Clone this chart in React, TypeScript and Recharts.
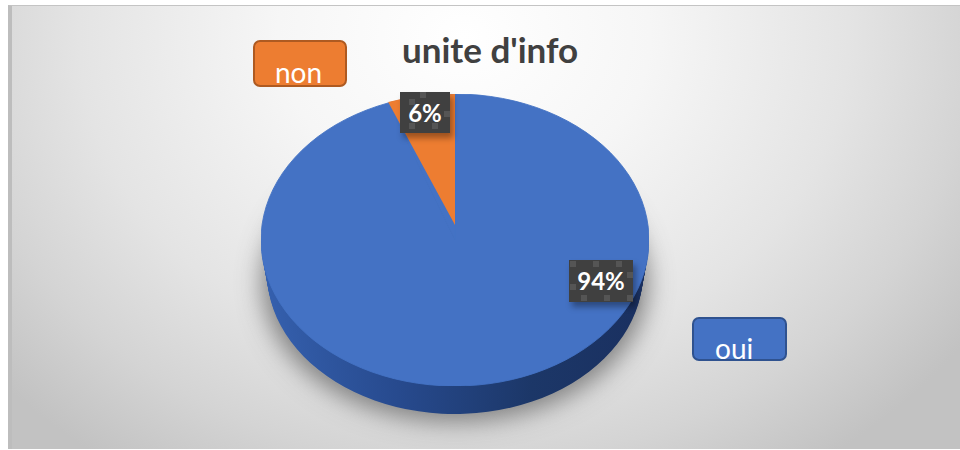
import { Cell, Pie, PieChart } from "recharts";

const labels = ["oui", "non"];
const values = [94.4, 5.6];
const sideLayers = [28, 26, 24, 22, 20, 18, 16, 14, 12, 10, 8, 6, 4, 2];

const BLUE = "#4472c4";
const ORANGE = "#ed7d31";
const FONT = "Lato, 'Open Sans', sans-serif";

const tableData = labels.map((name, i) => ({ name, value: values[i] }));

const RX = 194;
const CX = 455;
const RY = 146;
const K = RY / RX;

// recharts only draws circles, so squash the whole chart to get the tilted disc
function FlatPie({
  cy,
  ry,
  children,
  extra = 0,
}: {
  cy: number;
  ry: number;
  children: React.ReactNode;
  extra?: number;
}) {
  const k = ry / RX;
  return (
    <div
      style={{
        position: "absolute",
        left: CX - RX,
        top: cy - RX,
        width: RX * 2,
        height: RX * 2 + extra,
        transform: `scaleY(${k})`,
        transformOrigin: `50% ${RX}px`,
      }}
    >
      <PieChart
        width={RX * 2}
        height={RX * 2 + extra}
        margin={{ top: 0, right: 0, bottom: 0, left: 0 }}
      >
        {children}
      </PieChart>
    </div>
  );
}

const pieProps = {
  dataKey: "value",
  nameKey: "name",
  cx: RX,
  outerRadius: RX,
  startAngle: 90,
  endAngle: -270,
  label: false,
  labelLine: false,
  isAnimationActive: false,
};

function Box({ left, top, width, height, bg, border, text, textX, baseline }: any) {
  return (
    <div
      style={{
        position: "absolute",
        left,
        top,
        width,
        height,
        boxSizing: "border-box",
        background: bg,
        border: `2px solid ${border}`,
        borderRadius: 7,
      }}
    >
      <span
        style={{
          position: "absolute",
          left: textX - left - 2,
          top: baseline - top - 2 - 26,
          lineHeight: "34px",
          fontFamily: FONT,
          fontSize: 28,
          color: "#fff",
          whiteSpace: "nowrap",
        }}
      >
        {text}
      </span>
    </div>
  );
}

function DataLabel({ left, top, width, height, text, dots }: any) {
  return (
    <div
      style={{
        position: "absolute",
        left,
        top,
        width,
        height,
        background: "#404040",
        boxShadow: "3px 5px 6px rgba(0,0,0,0.35)",
        color: "#fff",
        fontFamily: FONT,
        fontWeight: 700,
        fontSize: 24,
        lineHeight: `${height}px`,
        textAlign: "center",
      }}
    >
      {dots.map(([x, y]: number[], i: number) => (
        <i
          key={i}
          style={{
            position: "absolute",
            left: x,
            top: y,
            width: 6,
            height: 6,
            background: "#555",
          }}
        />
      ))}
      <span style={{ position: "relative" }}>{text}</span>
    </div>
  );
}

export default function App() {
  return (
    <div
      style={{
        position: "absolute",
        left: 0,
        top: 0,
        width: 960,
        height: 450,
        overflow: "hidden",
        background: "#fff",
      }}
    >
      <div
        style={{
          position: "absolute",
          left: 8,
          top: 5,
          width: 952,
          height: 444,
          background:
            "radial-gradient(ellipse 620px 520px at 452px 30px, #ffffff 0%, #f6f6f6 30%, #e4e4e4 62%, #d4d4d4 82%, #c2c2c2 100%)",
          borderLeft: "4px solid #bdbdbd",
          borderTop: "1px solid #c4c4c4",
          boxSizing: "border-box",
        }}
      />

      {/* soft shadow under the disc */}
      <div
        style={{
          position: "absolute",
          left: 270,
          top: 150,
          width: 370,
          height: 264,
          borderRadius: "50%",
          background: "#9c9c9c",
          boxShadow: "0 0 24px 8px rgba(105,105,105,0.8)",
        }}
      />

      {/* side wall */}
      <FlatPie cy={240} ry={RY} extra={60}>
        <defs>
          <linearGradient id="sideWall" x1="0" y1="0" x2="1" y2="0">
            <stop offset="0%" stopColor="#3560ae" />
            <stop offset="35%" stopColor="#274a8e" />
            <stop offset="70%" stopColor="#1c3768" />
            <stop offset="100%" stopColor="#1a3060" />
          </linearGradient>
        </defs>
        {sideLayers.map((d) => {
          // the wall narrows a little towards the bottom, as in a perspective view
          const r = RX - (d * 6) / 28;
          return (
            <Pie
              key={d}
              {...pieProps}
              outerRadius={r}
              cy={RX + d / K + (RX - r)}
              data={tableData}
              stroke="none"
            >
              {tableData.map((e) => (
                <Cell key={e.name} fill="url(#sideWall)" />
              ))}
            </Pie>
          );
        })}
      </FlatPie>

      {/* top face */}
      <FlatPie cy={240} ry={RY}>
        <Pie {...pieProps} cy={RX} data={tableData} stroke={BLUE} strokeWidth={1}>
          {tableData.map((d) => (
            <Cell key={d.name} fill={BLUE} />
          ))}
        </Pie>
      </FlatPie>

      {/* perspective moves the apex up, so the small slice sits on its own centre */}
      <FlatPie cy={225} ry={131}>
        <Pie {...pieProps} cy={RX} data={tableData} stroke="none">
          {tableData.map((d, i) => (
            <Cell key={d.name} fill={i === 1 ? ORANGE : "transparent"} />
          ))}
        </Pie>
      </FlatPie>

      <div
        style={{
          position: "absolute",
          left: 402,
          top: 28,
          fontFamily: FONT,
          fontWeight: 700,
          fontSize: 35,
          lineHeight: "42px",
          color: "#404040",
          whiteSpace: "nowrap",
        }}
      >
        unite d'info
      </div>

      <Box
        left={253}
        top={40}
        width={94}
        height={47}
        bg={ORANGE}
        border="#ae5a21"
        text={labels[1]}
        textX={275}
        baseline={81}
      />
      <Box
        left={692}
        top={317}
        width={95}
        height={44}
        bg={BLUE}
        border="#2f528f"
        text={labels[0]}
        textX={715}
        baseline={357}
      />

      <DataLabel
        left={400}
        top={92}
        width={50}
        height={41}
        text={`${Math.round(values[1])}%`}
        dots={[
          [9, 7],
          [9, 31],
          [20, 0],
          [32, 31],
          [44, 19],
        ]}
      />
      <DataLabel
        left={569}
        top={260}
        width={64}
        height={42}
        text={`${Math.round(values[0])}%`}
        dots={[
          [1, 1],
          [24, 1],
          [47, 1],
          [58, 12],
          [1, 24],
          [12, 35],
          [35, 35],
          [58, 35],
        ]}
      />
    </div>
  );
}
